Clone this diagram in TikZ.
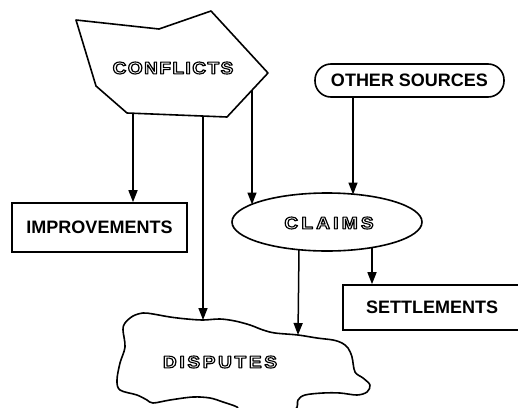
\documentclass[tikz,border=0pt]{standalone}
\usepackage{fontspec}
\usepackage{graphicx}
\setmainfont{Liberation Sans}
\usetikzlibrary{shapes.geometric,arrows.meta,calc}
\makeatletter
\def\spo#1{\ifx#1\relax\else#1\kern\lsp\expandafter\spo\fi}
\makeatother
\newcommand\spacedtext[2]{\def\lsp{#1}\spo#2\relax\kern-#1\relax}
\newcommand\outlined[1]{\special{pdf:code q 2 Tr 1.1 w 0 G 1 g 1 j}#1\special{pdf:code Q}}
\tikzset{
  lbl/.style={font=\bfseries\fontsize{18}{21}\selectfont},
  htext/.style={font=\bfseries\fontsize{17}{20}\selectfont, inner sep=0pt},
  boxshape/.style={draw, line width=1.6pt, inner sep=0pt},
  conn/.style={line width=1.5pt, -{Triangle[width=9pt,length=12pt]}},
  outline/.style={line width=1.6pt, line join=round}
}
\newcommand\hollowat[4]{%
  \node[htext] (#1) at (#2,#3) {\outlined{#4}};}
\begin{document}
\begin{tikzpicture}[x=1pt,y=-1pt]
\useasboundingbox (0,0) rectangle (518,407);
\clip (0,0) rectangle (518,407);
\fill[white] (0,0) rectangle (518,407);

% CONFLICTS polygon
\draw[outline] (76,20) -- (159,29) -- (211,11) -- (268,73) -- (227,117) -- (127,113) -- (96,86) -- cycle;
\hollowat{conf}{173}{68}{\scalebox{1.12}[1]{\spacedtext{1.3pt}{CONFLICTS}}}
\coordinate (c1) at (133,113.3);
\coordinate (c2) at (203,116.1);
\coordinate (c3) at (252,90);

% OTHER SOURCES
\node[boxshape, rounded corners=16pt, minimum width=189pt, minimum height=33pt, lbl] (other) at (409.5,80.5) {OTHER SOURCES};

% IMPROVEMENTS
\node[boxshape, minimum width=175pt, minimum height=49pt, lbl] (impr) at (99.5,227.5) {IMPROVEMENTS};

% CLAIMS
\node[draw, ellipse, line width=1.6pt, minimum width=190pt, minimum height=58pt, inner sep=0pt] (claims) at (327,222) {};
\hollowat{claimtxt}{329}{223}{\scalebox{1.12}[1]{\spacedtext{2.9pt}{CLAIMS}}}
\coordinate (cl1) at (252,204.5);
\coordinate (cl2) at (353,194.5);
\coordinate (cl3) at (299,249.5);
\coordinate (cl4) at (372,247.5);

% SETTLEMENTS
\node[boxshape, minimum width=178pt, minimum height=45pt, lbl] (settle) at (432,307.5) {SETTLEMENTS};

% DISPUTES blob
\draw[line width=1.6pt, line join=round] plot[smooth cycle, tension=0.55] coordinates {
(125,323) (133,316) (143,313) (153,314) (170,317) (187,319) (203,320) (220,319) (235,321)
(250,325) (263,330) (275,333) (298,335) (317,338) (333,340) (342,343) (348,348) (352,357)
(355,372) (363,378) (370,385) (367,392) (357,395) (340,393) (323,393) (305,395) (298,400)
(295,410) (270,425) (240,412) (237,407) (223,402) (210,398) (193,397) (170,400) (153,403)
(147,400) (137,395) (120,390) (117,380) (120,363) (125,347) (123,330)};
\coordinate (d1) at (203,320);
\coordinate (d2) at (298,335);
\hollowat{disp}{220}{362}{\scalebox{1.12}[1]{\spacedtext{2.4pt}{DISPUTES}}}

% connectors
\draw[conn] (c1) -- (c1 |- impr.north);
\draw[conn] (c2) -- (d1);
\draw[conn] (c3) -- (cl1);
\draw[conn] (other.south -| cl2) -- (cl2);
\draw[conn] (cl3) -- (d2);
\draw[conn] (cl4) -- (cl4 |- settle.north);
\end{tikzpicture}
\end{document}
